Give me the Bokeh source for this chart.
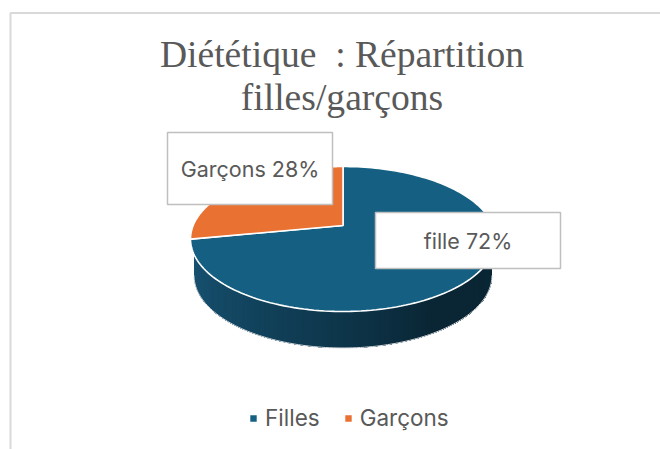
import numpy as np
from bokeh.plotting import figure
from bokeh.embed import file_html
from bokeh.resources import INLINE
from bokeh.models import Range1d, Legend, LegendItem
from bokeh.core.properties import value

title_lines = ["Diététique\u00a0 : Répartition", "filles/garçons"]
legend_labels = ["Filles", "Garçons"]
slice_labels = ["fille", "Garçons"]
shares = [72, 28]
colors = ["#156082", "#E97132"]

W, H = 660, 449
p = figure(width=W, height=H, output_backend="svg", toolbar_location=None,
           x_range=Range1d(0, W), y_range=Range1d(H, 0),
           min_border=0, outline_line_color=None, background_fill_color="white")
p.axis.visible = False
p.grid.visible = False

# chart frame (runs off the right and the bottom of the picture)
p.line([10, 10, 700], [500, 12.5, 12.5], line_color="#d9d9d9", line_width=2)

# projected pie geometry
CX, CY, RX, RY, TILT = 342.5, 238.5, 152.5, 72.5, 0.186
WALL_CY, WALL_RX = 275.0, 149.0


def project(theta):
    """theta: clockwise from the top, in radians -> point on the tilted disc."""
    u, v = np.sin(theta), np.cos(theta)
    d = 1 + TILT * v
    return CX + RX * u * np.sqrt(1 - TILT ** 2) / d, CY - RY * (v + TILT) / d


apex = (CX, CY - RY * TILT)

# side wall: each strip covers the rest of the wall, so no seams show
ts = np.linspace(-np.pi / 2, np.pi / 2, 91)
stops_x = [0.0, 0.25, 0.5, 0.72, 1.0]
stops_c = np.array([[24, 84, 116], [19, 70, 97], [14, 54, 75], [10, 37, 51], [11, 40, 55]])
for a in ts[:-1]:
    tt = np.linspace(a, np.pi / 2, 60)
    xs = WALL_RX * np.sin(tt) + CX
    ybot = WALL_CY + RY * np.cos(tt)
    ytop = np.maximum(CY + RY * np.sqrt(np.clip(1 - ((xs - CX) / RX) ** 2, 0, 1)) - 3, WALL_CY - 37)
    f = (a + np.pi / 2 + np.pi / 180) / np.pi
    c = [int(np.interp(f, stops_x, stops_c[:, i])) for i in range(3)]
    col = "#%02x%02x%02x" % tuple(c)
    p.patch(list(xs) + list(xs[::-1]), list(ybot) + list(ytop[::-1]),
            fill_color=col, line_color=None)
# thin light rim under the wall
tt = np.linspace(-np.pi / 2, np.pi / 2, 120)
p.line(WALL_RX * np.sin(tt) + CX, WALL_CY + RY * np.cos(tt), line_color="#d9dde0", line_width=1)

# top face, from the shares
renderers = []
angle = 0.0
for share, col in zip(shares, colors):
    end = angle + share / sum(shares) * 2 * np.pi
    th = np.linspace(angle, end, 160)
    x, y = project(th)
    xs = [apex[0]] + list(x)
    ys = [apex[1]] + list(y)
    renderers.append(p.patch(xs, ys, fill_color=col, line_color="white", line_width=1.6))
    angle = end

# data labels
boxes = [(375, 560, 212, 268), (167, 332, 132, 204)]
for (x0, x1, y0, y1), name, share in zip(boxes, slice_labels, shares):
    p.quad(left=[x0], right=[x1], top=[y0], bottom=[y1], fill_color="white",
           line_color="#bfbfbf", line_width=1.5)
    p.text([(x0 + x1) / 2], [(y0 + y1) / 2 + 0.5], text=[f"{name} {share}%"],
           text_font=value("Inter"), text_font_size="21.5px", text_color="#595959",
           text_align="center", text_baseline="middle")

# title
for yy, line in zip([54, 97], title_lines):
    p.text([341.5], [yy], text=[line], text_font=value("Liberation Serif"), text_font_size="37.6px",
           text_color="#595959", text_align="center", text_baseline="middle")

legend = Legend(items=[LegendItem(label=l, renderers=[r]) for l, r in zip(legend_labels, renderers)],
                orientation="horizontal", location=(248, 18), border_line_color=None,
                background_fill_alpha=0, glyph_width=10, glyph_height=10,
                label_text_font="Inter", label_text_font_size="22.5px", label_text_color="#595959",
                spacing=23, padding=4, margin=0, label_standoff=7)
p.add_layout(legend, "center")

open("out.html", "w").write(file_html(p, INLINE))
